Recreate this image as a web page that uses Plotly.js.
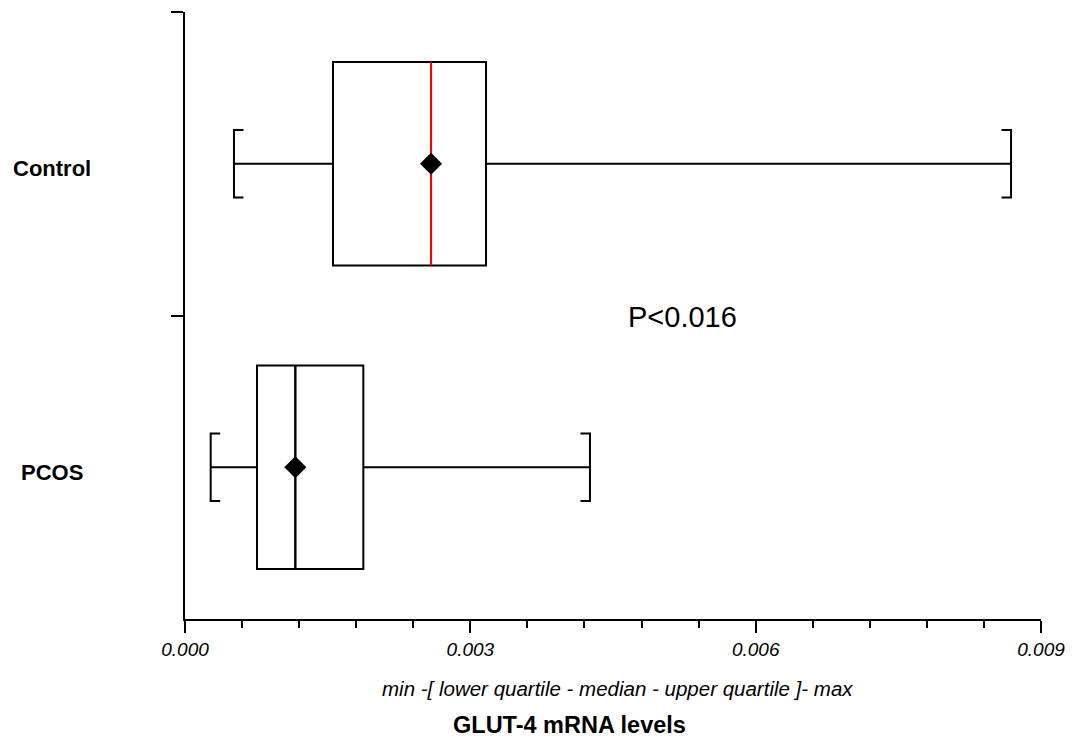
<!DOCTYPE html>
<html>
<head>
<meta charset="utf-8">
<script src="https://cdn.plot.ly/plotly-3.0.1.min.js"></script>
<style>
  html, body { margin: 0; padding: 0; background: #ffffff; }
  #chart { width: 1072px; height: 744px; }
</style>
</head>
<body>
<div id="chart"></div>
<script>
// Groups, bottom to top
const categories = ['PCOS', 'Control'];

// Five-number summaries and means of GLUT-4 mRNA levels
const minValues    = [0.00027, 0.000515];
const q1Values     = [0.000757, 0.001556];
const medianValues = [0.00116, 0.002587];
const q3Values     = [0.001875, 0.003165];
const maxValues    = [0.004258, 0.008685];
const meanValues   = [0.00116, 0.002587];

// Axis ticks
const xTickValues = [0, 0.003, 0.006, 0.009];
const xTickLabels = ['0.000', '0.003', '0.006', '0.009'];

const FONT = 'Liberation Sans, Arial, sans-serif';
const BOX_WIDTH = 0.67;      // box thickness in category units
const CAP_HALF = 0.111;      // half height of whisker brackets
const CAP_TIP = 0.0001;      // length of the inward bracket tips (x units)
const medianColors = ['#000000', '#ff0000'];

const pos = categories.map((c, i) => i);
const traces = [];

// Boxes with whiskers
categories.forEach((c, i) => {
  traces.push({
    type: 'box',
    orientation: 'h',
    y: [pos[i]],
    q1: [q1Values[i]],
    median: [medianValues[i]],
    q3: [q3Values[i]],
    lowerfence: [minValues[i]],
    upperfence: [maxValues[i]],
    width: BOX_WIDTH,
    whiskerwidth: 0,
    fillcolor: 'rgba(255,255,255,0)',
    line: { color: '#000000', width: 2 },
    boxpoints: false,
    hoverinfo: 'skip',
    showlegend: false
  });
});

// Bracket-shaped whisker ends
categories.forEach((c, i) => {
  const y0 = pos[i] - CAP_HALF, y1 = pos[i] + CAP_HALF;
  traces.push({
    type: 'scatter', mode: 'lines',
    x: [minValues[i] + CAP_TIP, minValues[i], minValues[i], minValues[i] + CAP_TIP, null,
        maxValues[i] - CAP_TIP, maxValues[i], maxValues[i], maxValues[i] - CAP_TIP],
    y: [y0, y0, y1, y1, null, y0, y0, y1, y1],
    line: { color: '#000000', width: 2 },
    hoverinfo: 'skip', showlegend: false
  });
});

// Median lines (coloured per group)
categories.forEach((c, i) => {
  traces.push({
    type: 'scatter', mode: 'lines',
    x: [medianValues[i], medianValues[i]],
    y: [pos[i] - BOX_WIDTH / 2, pos[i] + BOX_WIDTH / 2],
    line: { color: medianColors[i], width: 2 },
    hoverinfo: 'skip', showlegend: false
  });
});

// Mean markers
traces.push({
  type: 'scatter', mode: 'markers',
  x: meanValues, y: pos,
  marker: { symbol: 'diamond', size: 17, color: '#000000' },
  hoverinfo: 'skip', showlegend: false
});

const annotations = categories.map((c, i) => ({
  text: '<b>' + c + '</b>',
  xref: 'paper', yref: 'y',
  x: -0.1554, y: pos[i], yshift: -5,
  xanchor: 'center', yanchor: 'middle',
  showarrow: false,
  font: { family: FONT, size: 22, color: '#000000' }
}));

annotations.push({
  text: 'P<0.016',
  xref: 'x', yref: 'y', x: 0.00523, y: 0.494,
  xanchor: 'center', yanchor: 'middle', showarrow: false,
  font: { family: FONT, size: 29, color: '#000000' }
});
annotations.push({
  text: 'min -[ lower quartile - median - upper quartile ]- max',
  xref: 'paper', yref: 'paper', x: 0.505, y: -0.1137,
  xanchor: 'center', yanchor: 'middle', showarrow: false,
  font: { family: FONT, size: 20.5, color: '#000000', style: 'italic' }
});
annotations.push({
  text: '<b>GLUT-4 mRNA levels</b>',
  xref: 'paper', yref: 'paper', x: 0.449, y: -0.1746,
  xanchor: 'center', yanchor: 'middle', showarrow: false,
  font: { family: FONT, size: 23.5, color: '#000000' }
});

const layout = {
  width: 1072, height: 744,
  margin: { l: 185, r: 31, t: 12, b: 125, pad: 0 },
  paper_bgcolor: '#ffffff', plot_bgcolor: '#ffffff',
  showlegend: false,
  font: { family: FONT, color: '#000000' },
  xaxis: {
    range: [0, 0.009],
    tickmode: 'array', tickvals: xTickValues, ticktext: xTickLabels,
    ticks: 'outside', ticklen: 12, tickwidth: 2, tickcolor: '#000000',
    minor: { tick0: 0, dtick: 0.0006, ticks: 'outside', ticklen: 7, tickwidth: 2, tickcolor: '#000000', showgrid: false },
    tickfont: { family: FONT, size: 19, color: '#000000', style: 'italic' },
    showline: true, linewidth: 2, linecolor: '#000000',
    showgrid: false, zeroline: false, fixedrange: true
  },
  yaxis: {
    range: [-0.5, 1.5],
    tickmode: 'array', tickvals: [0.5, 1.5],
    ticks: 'outside', ticklen: 12, tickwidth: 2, tickcolor: '#000000',
    showticklabels: false,
    showline: true, linewidth: 2, linecolor: '#000000',
    showgrid: false, zeroline: false, fixedrange: true
  },
  annotations: annotations
};

Plotly.newPlot('chart', traces, layout, { staticPlot: true, displayModeBar: false });
</script>
</body>
</html>
